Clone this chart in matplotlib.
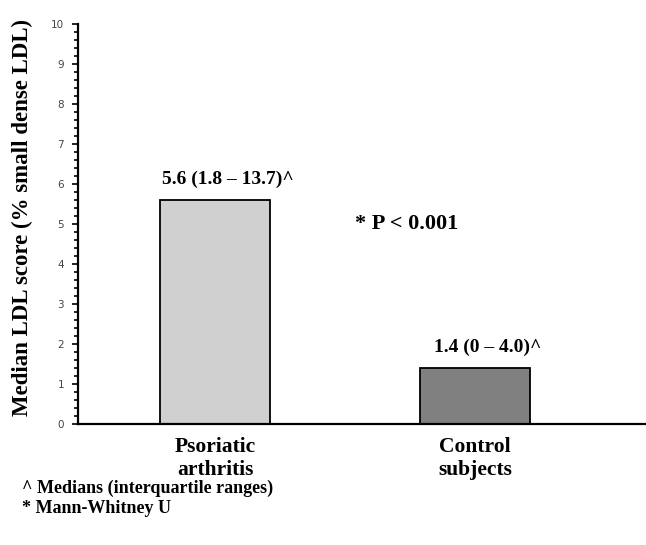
# Median LDL score bar chart
import numpy as np
import matplotlib
matplotlib.use('Agg')
import matplotlib.pyplot as plt
from matplotlib.ticker import MultipleLocator

groups = ['Psoriatic\narthritis', 'Control\nsubjects']
medians = [5.6, 1.4]
iqr_labels = ['5.6 (1.8 \u2013 13.7)^', '1.4 (0 \u2013 4.0)^']
bar_colors = ['#d0d0d0', '#808080']

serif = 'Liberation Serif'

fig = plt.figure(figsize=(6.46, 5.45), dpi=100)
ax = fig.add_axes([0.1207, 0.222, 0.8793, 0.734])

x = np.arange(len(groups))
ax.bar(x, medians, width=0.423, color=bar_colors, edgecolor='black', linewidth=1.3)

# value labels above bars (sit a little right of bar centre)
for xi, m, lab in zip(x, medians, iqr_labels):
    ax.text(xi + 0.05, m + 0.3, lab, ha='center', va='bottom', family=serif,
            fontweight='bold', fontsize=14)

ax.text(0.54, 5.0, '* P < 0.001', ha='left', va='center', family=serif,
        fontweight='bold', fontsize=16)

ax.set_xlim(-0.527, 1.658)
ax.set_ylim(0, 10)
ax.yaxis.set_major_locator(MultipleLocator(1))
ax.yaxis.set_minor_locator(MultipleLocator(0.2))
ax.tick_params(axis='y', which='major', direction='out', length=4, width=1.2,
               labelsize=7.5, pad=6, labelcolor='#444444')
ax.tick_params(axis='y', which='minor', direction='out', length=3, width=1.2)
ax.set_xticks(x)
ax.set_xticklabels(groups, family=serif, fontweight='bold', fontsize=15.5,
                   linespacing=1.2)
ax.tick_params(axis='x', length=0, pad=9)

ax.spines['top'].set_visible(False)
ax.spines['right'].set_visible(False)
ax.spines['left'].set_linewidth(1.6)
ax.spines['bottom'].set_linewidth(1.6)

fig.text(0.034, 0.60, 'Median LDL score (% small dense LDL)', rotation=90,
         ha='center', va='center', family=serif, fontweight='bold', fontsize=16.5)

fig.text(0.034, 0.104, '^ Medians (interquartile ranges)', ha='left', va='center',
         family=serif, fontweight='bold', fontsize=13)
fig.text(0.034, 0.067, '* Mann-Whitney U', ha='left', va='center',
         family=serif, fontweight='bold', fontsize=13)

fig.savefig('out.png', dpi=100)
